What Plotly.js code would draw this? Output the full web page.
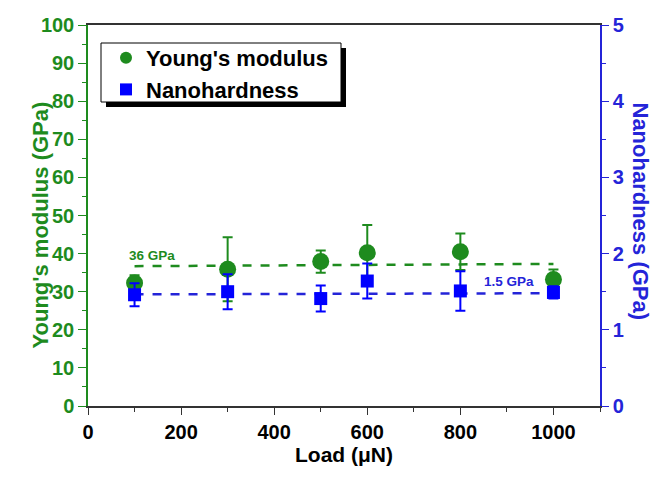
<!DOCTYPE html>
<html><head><meta charset="utf-8">
<script src="https://cdn.plot.ly/plotly-3.0.1.min.js"></script>
<style>body{margin:0;background:#fff}#c{width:664px;height:480px}</style>
</head><body><div id="c"></div>
<script>
const loads = [100, 300, 500, 600, 800, 1000];
const modulus = [32.3, 35.9, 37.9, 40.2, 40.5, 33.2];
const modulusErr = [2.0, 8.4, 2.9, 7.3, 4.8, 2.6];
const hardness = [1.46, 1.50, 1.41, 1.64, 1.51, 1.49];
const hardnessErr = [0.15, 0.23, 0.17, 0.23, 0.26, 0.08];
const modFitX = [100, 1000];
const modFitY = [36.7, 37.3];
const hardFitX = [100, 1000];
const hardFitY = [1.465, 1.48];

const GREEN = '#1e8b1e';
const BLUE = '#0000ff';
const BLUE_T = '#2424d8';
const F = 'Liberation Sans, Arial, sans-serif';

const traces = [
  {x: modFitX, y: modFitY, mode: 'lines', line: {color: GREEN, dash: 'dash', width: 2.5}, showlegend: false, hoverinfo: 'skip'},
  {x: hardFitX, y: hardFitY, yaxis: 'y2', mode: 'lines', line: {color: BLUE_T, dash: 'dash', width: 2.5}, showlegend: false, hoverinfo: 'skip'},
  {x: loads, y: modulus, name: "Young's modulus", mode: 'markers',
   marker: {color: GREEN, size: 17, symbol: 'circle'},
   error_y: {type: 'data', array: modulusErr, visible: true, color: GREEN, thickness: 2, width: 5}},
  {x: loads, y: hardness, yaxis: 'y2', name: 'Nanohardness', mode: 'markers',
   marker: {color: BLUE, size: 13, symbol: 'square'},
   error_y: {type: 'data', array: hardnessErr, visible: true, color: BLUE, thickness: 2, width: 5}}
];

const px = v => (v - 88) / 512;
const py = v => (406 - v) / 381;

const layout = {
  width: 664, height: 480,
  margin: {l: 88, r: 64, t: 25, b: 74},
  paper_bgcolor: '#fff', plot_bgcolor: '#fff',
  font: {family: F, size: 20, color: '#000'},
  showlegend: true,
  legend: {x: px(106), y: py(37), xanchor: 'left', yanchor: 'top', bgcolor: 'rgba(0,0,0,0)', borderwidth: 0,
           font: {family: F, size: 22, color: '#000', weight: 'bold'}, itemsizing: 'constant', tracegroupgap: 0},
  xaxis: {range: [0, 1100], tickvals: [0, 200, 400, 600, 800, 1000], showgrid: false, zeroline: false,
          showline: true, linecolor: '#333', linewidth: 1.5, mirror: true, ticks: 'outside', ticklen: 7, tickcolor: '#333',
          minor: {ticks: 'outside', dtick: 100, tick0: 0, ticklen: 4, tickcolor: '#333'},
          tickfont: {family: F, size: 20, color: '#000', weight: 'bold'}},
  yaxis: {range: [0, 100], dtick: 10, showgrid: false, zeroline: false,
          showline: true, linecolor: GREEN, linewidth: 1.5, ticks: 'outside', ticklen: 8, tickcolor: GREEN,
          minor: {ticks: 'outside', dtick: 5, ticklen: 4, tickcolor: GREEN},
          tickfont: {family: F, size: 20, color: GREEN, weight: 'bold'}},
  yaxis2: {range: [0, 5], dtick: 1, overlaying: 'y', side: 'right', showgrid: false, zeroline: false,
          showline: true, linecolor: BLUE_T, linewidth: 1.5, ticks: 'outside', ticklen: 7, tickcolor: BLUE_T,
          minor: {ticks: 'outside', dtick: 0.5, ticklen: 4, tickcolor: BLUE_T},
          tickfont: {family: F, size: 20, color: BLUE_T, weight: 'bold'}},
  annotations: [
    {xref: 'x', yref: 'y', x: 84, y: 39.6, text: '36 GPa', showarrow: false, xanchor: 'left',
     font: {family: F, size: 13.5, color: GREEN, weight: 'bold'}},
    {xref: 'x', yref: 'y2', x: 846, y: 1.63, text: '1.5 GPa', showarrow: false, xanchor: 'left',
     font: {family: F, size: 13.5, color: BLUE_T, weight: 'bold'}},
    {xref: 'paper', yref: 'paper', x: px(655), y: py(211), text: 'Nanohardness (GPa)', showarrow: false, textangle: 90,
     font: {family: F, size: 22, color: BLUE_T, weight: 'bold'}},
    {xref: 'paper', yref: 'paper', x: px(25), y: py(225), text: "Young's modulus (GPa)", showarrow: false, textangle: -90,
     font: {family: F, size: 22, color: GREEN, weight: 'bold'}},
    {xref: 'paper', yref: 'paper', x: 0.5, y: py(468), text: 'Load (μN)', showarrow: false,
     font: {family: F, size: 21, color: '#000', weight: 'bold'}}
  ],
  shapes: [
    {type: 'rect', xref: 'paper', yref: 'paper', x0: px(106), x1: px(346), y0: py(107), y1: py(48),
     fillcolor: '#000', line: {width: 0}, layer: 'above'},
    {type: 'rect', xref: 'paper', yref: 'paper', x0: px(101), x1: px(341), y0: py(102), y1: py(43),
     fillcolor: '#fff', line: {width: 1, color: '#000'}, layer: 'above'}
  ]
};
Plotly.newPlot('c', traces, layout, {displayModeBar: false});
</script></body></html>
